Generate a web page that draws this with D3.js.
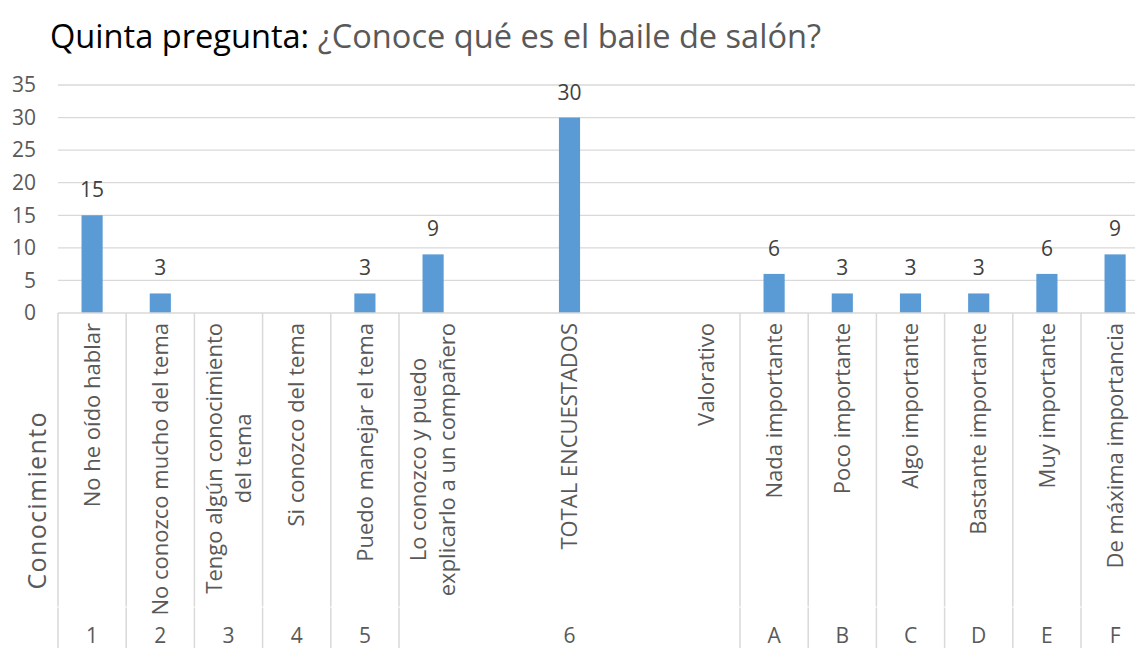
<!DOCTYPE html>
<html>
<head>
<meta charset="utf-8">
<script src="https://cdn.jsdelivr.net/npm/d3@7"></script>
<style>
  html, body { margin: 0; padding: 0; background: #fff; }
  svg { display: block; font-family: "Open Sans", "Segoe UI", sans-serif; }
</style>
</head>
<body>
<svg id="chart" width="1135" height="648"></svg>
<script>
// ---- data ----
const titleMain = "Quinta pregunta:";
const titleSub = "¿Conoce qué es el baile de salón?";
const categories = [
  "No he oído hablar",
  "No conozco mucho del tema",
  "Tengo algún  conocimiento\ndel tema",
  "Si conozco del tema",
  "Puedo manejar el tema",
  "Lo conozco y puedo\nexplicarlo a un compañero",
  "",
  "TOTAL ENCUESTADOS",
  "",
  "Valorativo",
  "Nada importante",
  "Poco importante",
  "Algo importante",
  "Bastante importante",
  "Muy importante",
  "De máxima importancia"
];
const values = [15, 3, null, null, 3, 9, null, 30, null, null, 6, 3, 3, 3, 6, 9];
const groupLabels = ["1", "2", "3", "4", "5", "6", "A", "B", "C", "D", "E", "F"];
const groupSpans  = [1, 1, 1, 1, 1, 5, 1, 1, 1, 1, 1, 1];
const yTicks = [0, 5, 10, 15, 20, 25, 30, 35];
const sideLabel = "Conocimiento";

// ---- layout ----
const svg = d3.select("#chart");
const left = 58, slot = 68.2;
const right = left + slot * categories.length;
const y0 = 313, yTop = 85, bottom = 648;
const idx = categories.map((d, i) => i);

const x = d3.scaleBand().domain(idx).range([left, right]).paddingInner(0.69).paddingOuter(0.345);
const xs = d3.scaleBand().domain(idx).range([left, right]).padding(0);
const y = d3.scaleLinear().domain([0, 35]).range([y0, yTop]);

const grid = "#d9d9d9";
const fs = 21;     // numbers
const fsCat = 22;  // category labels

// title
const title = svg.append("text").attr("x", 50).attr("y", 48).attr("font-size", 32.6);
title.append("tspan").attr("fill", "#000").text(titleMain + " ");
title.append("tspan").attr("fill", "#595959").text(titleSub);

// gridlines
svg.append("g").selectAll("line").data(yTicks.filter(t => t > 0)).join("line")
  .attr("x1", left).attr("x2", right)
  .attr("y1", d => y(d)).attr("y2", d => y(d))
  .attr("stroke", grid).attr("stroke-width", 1.3);

// y axis
const yAxis = d3.axisLeft(y).tickValues(yTicks).tickSize(0).tickPadding(0);
const ya = svg.append("g").attr("transform", `translate(${36},0)`).call(yAxis);
ya.select(".domain").remove();
ya.selectAll("text").attr("font-size", fs).attr("fill", "#595959")
  .attr("font-family", '"Open Sans", sans-serif');

// bars
svg.append("g").selectAll("rect").data(idx.filter(i => values[i] != null)).join("rect")
  .attr("x", i => x(i)).attr("width", x.bandwidth())
  .attr("y", i => y(values[i])).attr("height", i => y(0) - y(values[i]))
  .attr("fill", "#5b9bd5");

// data labels
svg.append("g").selectAll("text").data(idx.filter(i => values[i] != null)).join("text")
  .attr("x", i => x(i) + x.bandwidth() / 2).attr("y", i => y(values[i]) - 18)
  .attr("text-anchor", "middle").attr("font-size", fs).attr("fill", "#404040")
  .text(i => values[i]);

// x axis baseline
svg.append("line").attr("x1", left).attr("x2", right).attr("y1", y0).attr("y2", y0)
  .attr("stroke", grid).attr("stroke-width", 1.5);

// separators (boundaries)
const bounds = [];
let acc = 0;
bounds.push(0);
groupSpans.forEach(s => { acc += s; bounds.push(acc); });
const sepX = b => b < categories.length ? xs(b) : right;
const sep = svg.append("g");
sep.selectAll("line.a").data(bounds).join("line").attr("class", "a")
  .attr("x1", sepX).attr("x2", sepX).attr("y1", y0).attr("y2", 606.5)
  .attr("stroke", grid).attr("stroke-width", 1.5);
sep.selectAll("line.b").data(bounds).join("line").attr("class", "b")
  .attr("x1", sepX).attr("x2", sepX).attr("y1", 607.5).attr("y2", bottom)
  .attr("stroke", grid).attr("stroke-width", 1.5);

// inner category labels (rotated, top aligned)
const lh = 29;
const catG = svg.append("g");
idx.forEach(i => {
  if (!categories[i]) return;
  const lines = categories[i].split("\n");
  const cx = xs(i) + xs.bandwidth() / 2;
  const g = catG.append("g").attr("transform", `translate(${cx},${323}) rotate(-90)`);
  const texts = lines.map((ln, k) => g.append("text")
    .attr("y", (k - (lines.length - 1) / 2) * lh)
    .attr("dy", "0.35em")
    .attr("font-size", fsCat).attr("fill", "#595959")
    .attr("text-anchor", "middle")
    .text(ln));
  const maxL = d3.max(texts, t => t.node().getComputedTextLength());
  texts.forEach(t => t.attr("x", -maxL / 2));
});

// outer group labels
let start = 0;
groupLabels.forEach((lab, k) => {
  const s = groupSpans[k];
  const cx = (xs(start) + (start + s < categories.length ? xs(start + s) : right)) / 2;
  svg.append("text").attr("x", cx).attr("y", 643).attr("text-anchor", "middle")
    .attr("font-size", fs).attr("fill", "#595959").text(lab);
  start += s;
});

// side label
svg.append("text").attr("transform", `translate(37,501) rotate(-90)`)
  .attr("text-anchor", "middle").attr("dy", "0.35em")
  .attr("font-size", 25).attr("fill", "#595959")
  .attr("textLength", 177).attr("lengthAdjust", "spacing")
  .text(sideLabel);
</script>
</body>
</html>
